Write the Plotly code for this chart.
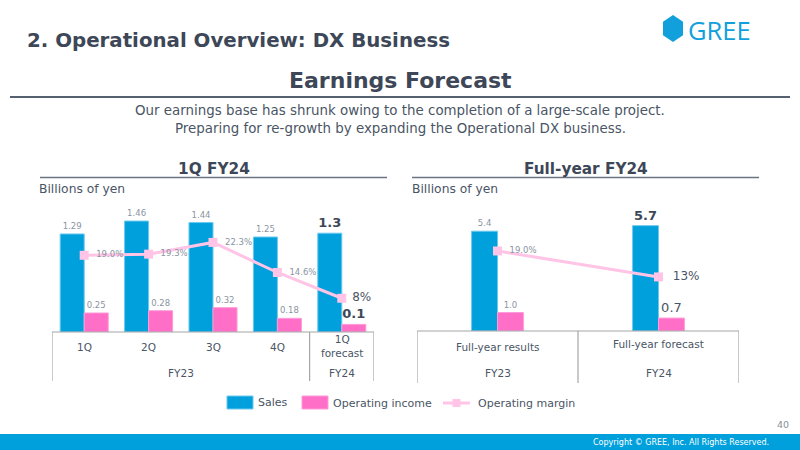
import plotly.graph_objects as go

# ---------------- data ----------------
q_categories = ["1Q", "2Q", "3Q", "4Q", "1Q<br>forecast"]
q_groups = ["FY23", "FY24"]
q_sales = [1.29, 1.46, 1.44, 1.25, 1.3]
q_op_income = [0.25, 0.28, 0.32, 0.18, 0.1]
q_margin = [19.0, 19.3, 22.3, 14.6, 8]
q_sales_labels = ["1.29", "1.46", "1.44", "1.25", "<b>1.3</b>"]
q_op_labels = ["0.25", "0.28", "0.32", "0.18", "<b>0.1</b>"]
q_margin_labels = ["19.0%", "19.3%", "22.3%", "14.6%", "8%"]

fy_categories = ["Full-year results", "Full-year forecast"]
fy_groups = ["FY23", "FY24"]
fy_sales = [5.4, 5.7]
fy_op_income = [1.0, 0.7]
fy_margin = [19.0, 13]
fy_sales_labels = ["5.4", "<b>5.7</b>"]
fy_op_labels = ["1.0", "0.7"]
fy_margin_labels = ["19.0%", "13%"]

# ---------------- style ----------------
W, H = 800, 450
FONT = "DejaVu Sans"
BLUE = "#00a0dc"
PINK = "#ff6ec7"
LPINK = "#ffc4e6"
DARK = "#3d4757"
TXT = "#4a5565"
GREY = "#8a94a2"
LINE = "#a6a6a6"
PAD2 = "\u00a0\u00a0"
PAD1 = "\u00a0"


def px(x):
    return x / W


def py(y):
    return 1 - y / H


fig = go.Figure()

# ---- left chart (quarterly) ----
wq = 0.373
fig.add_trace(go.Bar(
    x=list(range(len(q_sales))), y=q_sales, width=wq, offset=-wq,
    marker=dict(color=BLUE, line=dict(color="#6cc9ee", width=1)),
    text=q_sales_labels, textposition="outside", constraintext="none", cliponaxis=False,
    textfont=dict(family=FONT, size=[8.5, 8.5, 8.5, 8.5, 13],
                  color=[GREY, GREY, GREY, GREY, DARK]),
    xaxis="x", yaxis="y", showlegend=False, hoverinfo="skip"))
fig.add_trace(go.Bar(
    x=list(range(len(q_op_income))), y=q_op_income, width=wq, offset=0,
    marker=dict(color=PINK, line=dict(color="#ff9bd8", width=1)),
    text=q_op_labels, textposition="outside", constraintext="none", cliponaxis=False,
    textfont=dict(family=FONT, size=[8.5, 8.5, 8.5, 8.5, 13],
                  color=[GREY, GREY, GREY, GREY, DARK]),
    xaxis="x", yaxis="y", showlegend=False, hoverinfo="skip"))
q_pads = [PAD2, PAD2, PAD2, PAD2, PAD1]
fig.add_trace(go.Scatter(
    x=list(range(len(q_margin))), y=q_margin, mode="lines+markers+text",
    line=dict(color=LPINK, width=3), marker=dict(symbol="square", size=9, color=LPINK),
    text=[p + t for p, t in zip(q_pads, q_margin_labels)], textposition="middle right",
    cliponaxis=False,
    textfont=dict(family=FONT, size=[8.5, 8.5, 8.5, 8.5, 12],
                  color=[GREY, GREY, GREY, GREY, TXT]),
    xaxis="x", yaxis="y2", showlegend=False, hoverinfo="skip"))

# ---- right chart (full-year) ----
wf = 0.161
fig.add_trace(go.Bar(
    x=list(range(len(fy_sales))), y=fy_sales, width=wf, offset=-wf,
    marker=dict(color=BLUE, line=dict(color="#6cc9ee", width=1)),
    text=fy_sales_labels, textposition="outside", constraintext="none", cliponaxis=False,
    textfont=dict(family=FONT, size=[8.5, 13], color=[GREY, DARK]),
    xaxis="x3", yaxis="y3", showlegend=False, hoverinfo="skip"))
fig.add_trace(go.Bar(
    x=list(range(len(fy_op_income))), y=fy_op_income, width=wf, offset=0,
    marker=dict(color=PINK, line=dict(color="#ff9bd8", width=1)),
    text=fy_op_labels, textposition="outside", constraintext="none", cliponaxis=False,
    textfont=dict(family=FONT, size=[8.5, 13], color=[GREY, TXT]),
    xaxis="x3", yaxis="y3", showlegend=False, hoverinfo="skip"))
fy_pads = [PAD2, PAD2]
fig.add_trace(go.Scatter(
    x=list(range(len(fy_margin))), y=fy_margin, mode="lines+markers+text",
    line=dict(color=LPINK, width=3), marker=dict(symbol="square", size=9, color=LPINK),
    text=[p + t for p, t in zip(fy_pads, fy_margin_labels)], textposition="middle right",
    cliponaxis=False,
    textfont=dict(family=FONT, size=[8.5, 12], color=[GREY, TXT]),
    xaxis="x3", yaxis="y4", showlegend=False, hoverinfo="skip"))

hidden = dict(showgrid=False, zeroline=False, showticklabels=False, ticks="", showline=False)

fig.update_layout(
    width=W, height=H, margin=dict(l=0, r=0, t=0, b=0),
    paper_bgcolor="white", plot_bgcolor="rgba(0,0,0,0)",
    barmode="overlay", showlegend=False,
    font=dict(family=FONT, color=TXT),
    xaxis=dict(domain=[px(52), px(374)], range=[-0.5, 4.5], anchor="y", **hidden),
    yaxis=dict(domain=[py(332), py(210.4)], range=[0, 1.6], anchor="x", **hidden),
    yaxis2=dict(domain=[py(332), py(210.4)], range=[-0.64, 30.5], overlaying="y",
                anchor="x", **hidden),
    xaxis3=dict(domain=[px(417), px(739)], range=[-0.5, 1.5], anchor="y3", **hidden),
    yaxis3=dict(domain=[py(331), py(209)], range=[0, 6.6], anchor="x3", **hidden),
    yaxis4=dict(domain=[py(331), py(209)], range=[0.5, 28.7], overlaying="y3",
                anchor="x3", **hidden),
)

shapes = []
ann = []

# header
ann.append(dict(x=px(25), y=py(40), xref="paper", yref="paper", xanchor="left", yanchor="middle",
                text="<b>2. Operational Overview: DX Business</b>", showarrow=False,
                font=dict(size=19.8, color=DARK, family=FONT)))
# logo
hx, hy, hw, hh = 673, 28.5, 10, 13.5
shapes.append(dict(type="path", xref="paper", yref="paper",
                   path=(f"M {px(hx)} {py(hy-hh)} L {px(hx+hw)} {py(hy-hh/2)} L {px(hx+hw)} {py(hy+hh/2)} "
                         f"L {px(hx)} {py(hy+hh)} L {px(hx-hw)} {py(hy+hh/2)} L {px(hx-hw)} {py(hy-hh/2)} Z"),
                   fillcolor="#12a0dc", line=dict(width=0)))
ann.append(dict(x=px(686), y=py(30), xref="paper", yref="paper", xanchor="left", yanchor="middle",
                text="GREE", showarrow=False,
                font=dict(size=25.5, color="#12a0dc", family="Open Sans")))

ann.append(dict(x=0.5, y=py(80), xref="paper", yref="paper", xanchor="center", yanchor="middle",
                text="<b>Earnings Forecast</b>", showarrow=False,
                font=dict(size=22, color=DARK, family=FONT)))
shapes.append(dict(type="line", xref="paper", yref="paper", x0=px(10), x1=px(790), y0=py(97), y1=py(97),
                   line=dict(color="#566170", width=2)))
ann.append(dict(x=0.5, y=py(110), xref="paper", yref="paper", xanchor="center", yanchor="middle",
                text="Our earnings base has shrunk owing to the completion of a large-scale project.",
                showarrow=False, font=dict(size=13.4, color=TXT, family=FONT)))
ann.append(dict(x=0.5, y=py(128), xref="paper", yref="paper", xanchor="center", yanchor="middle",
                text="Preparing for re-growth by expanding the Operational DX business.",
                showarrow=False, font=dict(size=13.4, color=TXT, family=FONT)))

# section titles
for cx, title, x0, x1, bx in [(214, "1Q FY24", 40, 387, 37), (586, "Full-year FY24", 412, 759, 410)]:
    ann.append(dict(x=px(cx), y=py(169), xref="paper", yref="paper", xanchor="center", yanchor="middle",
                    text=f"<b>{title}</b>", showarrow=False, font=dict(size=15.3, color=DARK, family=FONT)))
    shapes.append(dict(type="line", xref="paper", yref="paper", x0=px(x0), x1=px(x1), y0=py(177.5),
                       y1=py(177.5), line=dict(color="#6b7482", width=1.5)))
    ann.append(dict(x=px(bx), y=py(189), xref="paper", yref="paper", xanchor="left", yanchor="middle",
                    text="Billions of yen", showarrow=False, font=dict(size=12.3, color=TXT, family=FONT)))

# category table (left)
shapes.append(dict(type="line", xref="x", yref="paper", x0=-0.5, x1=4.5, y0=py(332), y1=py(332),
                   line=dict(color=LINE, width=1.2)))
for xv in [-0.5, 3.5, 4.5]:
    shapes.append(dict(type="line", xref="x", yref="paper", x0=xv, x1=xv, y0=py(332), y1=py(381),
                       line=dict(color=LINE, width=1.2)))
for i, c in enumerate(q_categories):
    ann.append(dict(x=i, y=py(347 if i < 4 else 346), xref="x", yref="paper", xanchor="center",
                    yanchor="middle", text=c, showarrow=False,
                    font=dict(size=10.5, color=TXT, family=FONT)))
ann.append(dict(x=1.5, y=py(373), xref="x", yref="paper", xanchor="center", yanchor="middle",
                text=q_groups[0], showarrow=False, font=dict(size=10.5, color=TXT, family=FONT)))
ann.append(dict(x=4, y=py(373), xref="x", yref="paper", xanchor="center", yanchor="middle",
                text=q_groups[1], showarrow=False, font=dict(size=10.5, color=TXT, family=FONT)))

# category table (right)
shapes.append(dict(type="line", xref="x3", yref="paper", x0=-0.5, x1=1.5, y0=py(331), y1=py(331),
                   line=dict(color=LINE, width=1.2)))
for xv in [-0.5, 0.5, 1.5]:
    shapes.append(dict(type="line", xref="x3", yref="paper", x0=xv, x1=xv, y0=py(331), y1=py(383),
                       line=dict(color=LINE, width=1.2)))
for i, c in enumerate(fy_categories):
    ann.append(dict(x=i, y=py(347 if i == 0 else 344), xref="x3", yref="paper", xanchor="center",
                    yanchor="middle", text=c, showarrow=False,
                    font=dict(size=10.5, color=TXT, family=FONT)))
    ann.append(dict(x=i, y=py(373), xref="x3", yref="paper", xanchor="center", yanchor="middle",
                    text=fy_groups[i], showarrow=False, font=dict(size=10.5, color=TXT, family=FONT)))

# legend
shapes.append(dict(type="rect", xref="paper", yref="paper", x0=px(227), x1=px(253), y0=py(409), y1=py(396),
                   fillcolor=BLUE, line=dict(color="#6cc9ee", width=1)))
ann.append(dict(x=px(256), y=py(402), xref="paper", yref="paper", xanchor="left", yanchor="middle",
                text="Sales", showarrow=False, font=dict(size=11, color=TXT, family=FONT)))
shapes.append(dict(type="rect", xref="paper", yref="paper", x0=px(302), x1=px(328), y0=py(409), y1=py(396),
                   fillcolor=PINK, line=dict(color="#ff9bd8", width=1)))
ann.append(dict(x=px(331), y=py(403), xref="paper", yref="paper", xanchor="left", yanchor="middle",
                text="Operating income", showarrow=False, font=dict(size=11, color=TXT, family=FONT)))
shapes.append(dict(type="line", xref="paper", yref="paper", x0=px(443), x1=px(470), y0=py(403), y1=py(403),
                   line=dict(color=LPINK, width=3)))
shapes.append(dict(type="rect", xref="paper", yref="paper", x0=px(452.5), x1=px(460.5), y0=py(407), y1=py(399),
                   fillcolor=LPINK, line=dict(width=0)))
ann.append(dict(x=px(476), y=py(403), xref="paper", yref="paper", xanchor="left", yanchor="middle",
                text="Operating margin", showarrow=False, font=dict(size=11, color=TXT, family=FONT)))

# footer
ann.append(dict(x=px(791), y=py(424), xref="paper", yref="paper", xanchor="right", yanchor="middle",
                text="40", showarrow=False, font=dict(size=9.5, color="#8a8f96", family=FONT)))
shapes.append(dict(type="rect", xref="paper", yref="paper", x0=0, x1=1, y0=0, y1=py(434),
                   fillcolor="#00a0dc", line=dict(width=0), layer="below"))
ann.append(dict(x=px(771), y=py(442), xref="paper", yref="paper", xanchor="right", yanchor="middle",
                text="Copyright © GREE, Inc. All Rights Reserved.", showarrow=False,
                font=dict(size=8, color="white", family=FONT)))

fig.update_layout(shapes=shapes, annotations=ann)
fig.write_html("out.html")
